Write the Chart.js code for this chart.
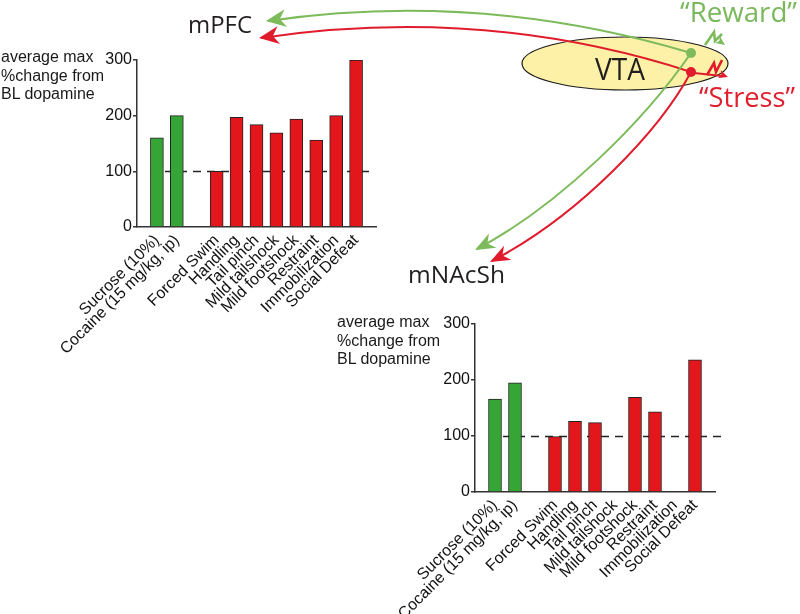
<!DOCTYPE html>
<html>
<head>
<meta charset="utf-8">
<script src="https://cdn.jsdelivr.net/npm/chart.js@4.4.1/dist/chart.umd.min.js"></script>
<style>
  body { margin: 0; background: #fff; width: 800px; height: 614px; position: relative; overflow: hidden;
         font-family: "Liberation Sans", Arial, sans-serif; }
  canvas { position: absolute; }
  .ytitle { position: absolute; font-size: 16px; line-height: 18.5px; color: #1a1a1a; white-space: nowrap; }
  #diagram { position: absolute; left: 0; top: 0; pointer-events: none; }
</style>
</head>
<body>
<canvas id="mpfcChart" width="390" height="320" style="left:0;top:40px"></canvas>
<canvas id="nacChart" width="400" height="314" style="left:330px;top:300px"></canvas>
<div class="ytitle" style="left:1px;top:48px">average max<br>%change from<br>BL dopamine</div>
<div class="ytitle" style="left:337px;top:313px">average max<br>%change from<br>BL dopamine</div>
<svg id="diagram" width="800" height="614" xmlns="http://www.w3.org/2000/svg"></svg>
<script>
const categories = ['Sucrose (10%)', 'Cocaine (15 mg/kg, ip)', 'Forced Swim', 'Handling', 'Tail pinch',
                    'Mild tailshock', 'Mild footshock', 'Restraint', 'Immobilization', 'Social Defeat'];
const rewardCount = 2; // first two are rewarding stimuli (green), the rest stressors (red)
const mpfcValues = [160, 200, 100, 197, 184, 169, 194, 156, 200, 300];
const nacValues  = [166, 195, 99, 126, 124, null, 169, 143, null, 236];
const yTicks = [0, 100, 200, 300];
const baselineValue = 100;

const GREEN = '#35a636';
const RED = '#e3161c';
const FONT = '"Liberation Sans", Arial, sans-serif';

// one empty slot between reward and stress groups
function slotOf(i) { return i < rewardCount ? i : i + 1; }

const dashedBaseline = {
  id: 'dashedBaseline',
  beforeDatasetsDraw(chart, args, opts) {
    const { ctx, chartArea, scales } = chart;
    const y = Math.round(scales.y.getPixelForValue(baselineValue)) + 0.5;
    ctx.save();
    ctx.strokeStyle = '#222';
    ctx.lineWidth = 1.3;
    ctx.setLineDash([8, 6]);
    ctx.beginPath();
    ctx.moveTo(chartArea.left + opts.startGap, y);
    ctx.lineTo(chartArea.right + opts.overhang, y);
    ctx.stroke();
    ctx.restore();
  }
};

function makeChart(id, values, yAxisWidth, xAxisHeight, padding, overhang) {
  return new Chart(document.getElementById(id), {
    type: 'bar',
    data: {
      datasets: [{
        data: values.map((v, i) => ({ x: slotOf(i), y: v })),
        backgroundColor: values.map((v, i) => i < rewardCount ? GREEN : RED),
        borderColor: '#222',
        borderWidth: 1,
        barThickness: 13
      }]
    },
    options: {
      responsive: false,
      animation: false,
      layout: { padding: padding },
      plugins: {
        legend: { display: false },
        tooltip: { enabled: false },
        dashedBaseline: { startGap: 14, overhang: overhang }
      },
      scales: {
        x: {
          type: 'linear',
          min: -1,
          max: 11,
          offset: false,
          afterBuildTicks: s => { s.ticks = categories.map((c, i) => ({ value: slotOf(i) })); },
          afterFit: s => { s.height = xAxisHeight; },
          grid: { display: false },
          border: { color: '#333', width: 1.5 },
          ticks: {
            autoSkip: false,
            minRotation: 45,
            maxRotation: 45,
            padding: -4,
            color: '#111',
            font: { family: FONT, size: 16 },
            callback: (v, i) => categories[i]
          }
        },
        y: {
          min: 0,
          max: 300,
          afterBuildTicks: s => { s.ticks = yTicks.map(v => ({ value: v })); },
          afterFit: s => { s.width = yAxisWidth; },
          grid: { drawOnChartArea: false, tickLength: 4, color: '#333', lineWidth: 1.5 },
          border: { color: '#333', width: 1.5 },
          ticks: { padding: 1, color: '#111', font: { family: FONT, size: 16 } }
        }
      }
    },
    plugins: [dashedBaseline]
  });
}

makeChart('mpfcChart', mpfcValues, 137, 133, { top: 20, right: 14 }, -2);
makeChart('nacChart', nacValues, 145, 122, { top: 24, right: 15 }, 8);

// ---- circuit diagram ----
const svg = document.getElementById('diagram');
const NS = 'http://www.w3.org/2000/svg';
const ARROW_GREEN = '#7cba5a';
const ARROW_RED = '#e01b2b';

function el(tag, attrs, text) {
  const e = document.createElementNS(NS, tag);
  for (const k in attrs) e.setAttribute(k, attrs[k]);
  if (text) e.textContent = text;
  svg.appendChild(e);
  return e;
}

function head(tip, from, color, len, half, notch) {
  const dx = tip[0] - from[0], dy = tip[1] - from[1];
  const d = Math.hypot(dx, dy);
  const ux = dx / d, uy = dy / d, nx = -uy, ny = ux;
  const pts = [
    tip,
    [tip[0] - ux * len + nx * half, tip[1] - uy * len + ny * half],
    [tip[0] - ux * (len - notch), tip[1] - uy * (len - notch)],
    [tip[0] - ux * len - nx * half, tip[1] - uy * len - ny * half]
  ];
  el('polygon', { points: pts.map(p => p.join(',')).join(' '), fill: color });
}

el('ellipse', { cx: 625, cy: 63.5, rx: 103, ry: 26.5, fill: '#fcf1a6', stroke: '#1a1a1a', 'stroke-width': 1.2 });
el('text', { x: 595, y: 80, 'font-family': '"Open Sans", sans-serif', 'font-size': 31, fill: '#231f20',
             textLength: 50, lengthAdjust: 'spacingAndGlyphs' }, 'VTA');

// to mPFC
el('path', { d: 'M691,53 Q480,-10 268,21', fill: 'none', stroke: ARROW_GREEN, 'stroke-width': 2 });
head([266, 21], [480, -10], ARROW_GREEN, 20, 9, 6);
el('path', { d: 'M691,72 Q485,5 261,38', fill: 'none', stroke: ARROW_RED, 'stroke-width': 2 });
head([259, 38], [485, 5], ARROW_RED, 20, 9, 6);

// to mNAcSh
el('path', { d: 'M691,53 C645,120 560,205 477,249', fill: 'none', stroke: ARROW_GREEN, 'stroke-width': 2 });
head([475, 250], [560, 205], ARROW_GREEN, 20, 8, 6);
el('path', { d: 'M691,72 C660,130 580,215 492,261', fill: 'none', stroke: ARROW_RED, 'stroke-width': 2 });
head([490, 262], [580, 215], ARROW_RED, 20, 8, 6);

// input zigzags
el('polyline', { points: '705,45 714,32 715,41 722,34', fill: 'none', stroke: ARROW_GREEN, 'stroke-width': 2.6,
                 'stroke-linejoin': 'miter' });
head([725, 45], [714, 37], ARROW_GREEN, 9, 4, 2);
el('polyline', { points: '707,75 714,63 716,72 722,60', fill: 'none', stroke: ARROW_RED, 'stroke-width': 2.6 });
el('line', { x1: 694, y1: 73, x2: 722, y2: 76, stroke: ARROW_RED, 'stroke-width': 1.8 });
head([728, 77], [716, 73], ARROW_RED, 9, 4, 2);

el('circle', { cx: 691, cy: 53, r: 5, fill: ARROW_GREEN });
el('circle', { cx: 691, cy: 72, r: 5, fill: ARROW_RED });

const labelFont = '"Open Sans", sans-serif';
el('text', { x: 188, y: 33, 'font-family': labelFont, 'font-size': 24, fill: '#231f20',
             textLength: 64, lengthAdjust: 'spacingAndGlyphs' }, 'mPFC');
el('text', { x: 408, y: 283, 'font-family': labelFont, 'font-size': 24, fill: '#231f20',
             textLength: 97, lengthAdjust: 'spacingAndGlyphs' }, 'mNAcSh');
el('text', { x: 680, y: 22, 'font-family': labelFont, 'font-size': 27, fill: '#7ab85c',
             textLength: 117, lengthAdjust: 'spacingAndGlyphs' }, '\u201CReward\u201D');
el('text', { x: 699, y: 107, 'font-family': labelFont, 'font-size': 28, fill: '#e0202e',
             textLength: 96, lengthAdjust: 'spacingAndGlyphs' }, '\u201CStress\u201D');
</script>
</body>
</html>
